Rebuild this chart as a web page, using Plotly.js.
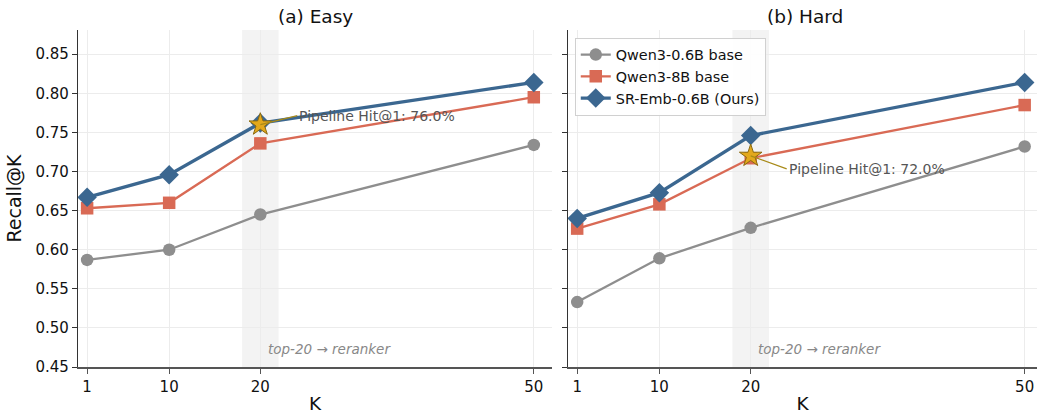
<!DOCTYPE html>
<html>
<head>
<meta charset="utf-8">
<script src="https://cdn.plot.ly/plotly-3.0.1.min.js"></script>
<style>html,body{margin:0;padding:0;background:#fff;}#chart{width:1037px;height:414px;}</style>
</head>
<body>
<div id="chart"></div>
<script>
const K = [1, 10, 20, 50];
const kTickLabels = ["1", "10", "20", "50"];
const yTicks = [0.45, 0.50, 0.55, 0.60, 0.65, 0.70, 0.75, 0.80, 0.85];

const easyQwen06 = [0.587, 0.600, 0.645, 0.734];
const easyQwen8 = [0.653, 0.660, 0.736, 0.795];
const easySR = [0.667, 0.696, 0.762, 0.814];
const easyPipeline = 0.760;

const hardQwen06 = [0.533, 0.589, 0.628, 0.732];
const hardQwen8 = [0.627, 0.658, 0.717, 0.785];
const hardSR = [0.640, 0.673, 0.746, 0.814];
const hardPipeline = 0.720;

const seriesNames = ["Qwen3-0.6B base", "Qwen3-8B base", "SR-Emb-0.6B (Ours)"];
const panelTitles = ["(a) Easy", "(b) Hard"];
const pipelineLabels = ["Pipeline Hit@1: 76.0%", "Pipeline Hit@1: 72.0%"];
const bandLabel = "top-20 → reranker";
const rerankK = 20;
const band = [18, 22];

const FONT = "DejaVu Sans, Liberation Sans, sans-serif";
const cGray = "#8e8e8e", cOrange = "#d96a55", cBlue = "#3b6790";

function panel(vals, xa, ya, legend) {
  const [g, o, b] = vals;
  return [
    {x: K, y: g, xaxis: xa, yaxis: ya, mode: "lines+markers", name: seriesNames[0], showlegend: legend,
     line: {color: cGray, width: 2.3}, marker: {symbol: "circle", size: 12.5, color: cGray}},
    {x: K, y: o, xaxis: xa, yaxis: ya, mode: "lines+markers", name: seriesNames[1], showlegend: legend,
     line: {color: cOrange, width: 2.3}, marker: {symbol: "square", size: 12.5, color: cOrange}},
    {x: K, y: b, xaxis: xa, yaxis: ya, mode: "lines+markers", name: seriesNames[2], showlegend: legend,
     line: {color: cBlue, width: 3.3}, marker: {symbol: "diamond", size: 15, color: cBlue}}
  ];
}

const data = [
  ...panel([easyQwen06, easyQwen8, easySR], "x", "y", false),
  ...panel([hardQwen06, hardQwen8, hardSR], "x2", "y2", true),
  {x: [rerankK], y: [easyPipeline], xaxis: "x", yaxis: "y", mode: "markers", showlegend: false,
   marker: {symbol: "star", size: 17, color: "#e3a81c", line: {color: "#8a6a10", width: 1}}},
  {x: [rerankK], y: [hardPipeline], xaxis: "x2", yaxis: "y2", mode: "markers", showlegend: false,
   marker: {symbol: "star", size: 17, color: "#e3a81c", line: {color: "#8a6a10", width: 1}}}
];

const axX = {
  tickvals: K, ticktext: kTickLabels, ticks: "outside", ticklen: 5, tickcolor: "#555",
  showline: true, linecolor: "#555", linewidth: 1.6, showgrid: true, gridcolor: "#ececec", gridwidth: 1,
  zeroline: false, tickfont: {family: FONT, size: 15, color: "#111"},
  title: {text: "K", font: {family: FONT, size: 18.5, color: "#111"}, standoff: 5}
};
const axY = {
  range: [0.45, 0.881], tickvals: yTicks, tickformat: ".2f", ticks: "outside", ticklen: 5, tickcolor: "#333",
  showline: true, linecolor: "#333", linewidth: 1.2, showgrid: true, gridcolor: "#ececec", gridwidth: 1,
  zeroline: false, tickfont: {family: FONT, size: 15, color: "#111"}
};

const layout = {
  width: 1037, height: 414,
  margin: {l: 78, r: 0, t: 30, b: 47},
  paper_bgcolor: "#fff", plot_bgcolor: "#fff",
  font: {family: FONT},
  showlegend: true,
  xaxis: Object.assign({}, axX, {domain: [0, 0.4943], range: [0, 52], anchor: "y"}),
  xaxis2: Object.assign({}, axX, {domain: [0.511, 1], range: [0, 51.35], anchor: "y2"}),
  yaxis: Object.assign({}, axY, {domain: [0, 1], anchor: "x",
    title: {text: "Recall@K", font: {family: FONT, size: 19, color: "#111"}, standoff: 8}}),
  yaxis2: Object.assign({}, axY, {domain: [0, 1], anchor: "x2", matches: "y", showticklabels: false}),
  legend: {x: 0.518, y: 0.977, xanchor: "left", yanchor: "top", bgcolor: "rgba(255,255,255,0.9)",
    bordercolor: "#d0d0d0", borderwidth: 1, font: {family: FONT, size: 14.4, color: "#111"},
    tracegroupgap: 0, itemwidth: 30},
  shapes: [
    {type: "rect", xref: "x", yref: "paper", x0: band[0], x1: band[1], y0: 0, y1: 1,
     fillcolor: "#f3f3f3", line: {width: 0}, layer: "below"},
    {type: "rect", xref: "x2", yref: "paper", x0: band[0], x1: band[1], y0: 0, y1: 1,
     fillcolor: "#f3f3f3", line: {width: 0}, layer: "below"}
  ],
  annotations: [
    {text: panelTitles[0], xref: "x domain", yref: "paper", x: 0.5, y: 1, yshift: 14, xanchor: "center", yanchor: "middle",
     showarrow: false, font: {family: FONT, size: 18.5, color: "#111"}},
    {text: panelTitles[1], xref: "paper", yref: "paper", x: (805 - 78) / 959, y: 1, yshift: 14, xanchor: "center", yanchor: "middle",
     showarrow: false, font: {family: FONT, size: 18.5, color: "#111"}},
    {text: pipelineLabels[0], xref: "x", yref: "y", x: rerankK, y: easyPipeline, ax: 37, ay: -9,
     xanchor: "left", yanchor: "middle", showarrow: true, arrowhead: 0, arrowwidth: 1.2, arrowcolor: "#a88a18",
     standoff: 0, startstandoff: 0, font: {family: FONT, size: 14, color: "#555"}},
    {text: pipelineLabels[1], xref: "x2", yref: "y2", x: rerankK, y: hardPipeline, ax: 36, ay: 13,
     xanchor: "left", yanchor: "middle", showarrow: true, arrowhead: 0, arrowwidth: 1.2, arrowcolor: "#a88a18",
     standoff: 0, startstandoff: 0, font: {family: FONT, size: 14, color: "#555"}},
    {text: "<i>" + bandLabel + "</i>", xref: "x", yref: "y", x: 20.6, y: 0.4727, xanchor: "left", yanchor: "middle",
     showarrow: false, font: {family: FONT, size: 13.5, color: "#888"}},
    {text: "<i>" + bandLabel + "</i>", xref: "x2", yref: "y2", x: 20.6, y: 0.4727, xanchor: "left", yanchor: "middle",
     showarrow: false, font: {family: FONT, size: 13.5, color: "#888"}}
  ]
};

Plotly.newPlot("chart", data, layout, {staticPlot: true, displayModeBar: false});
</script>
</body>
</html>
